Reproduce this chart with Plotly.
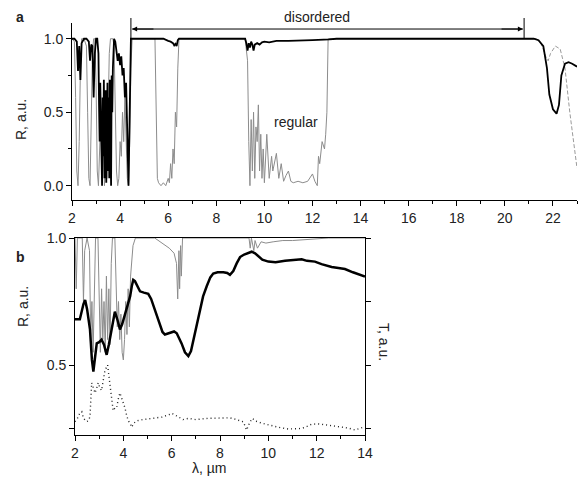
import plotly.graph_objects as go

# ---------------- Panel a data ----------------
a_dis_x = [2.0, 2.1, 2.2, 2.25, 2.3, 2.35, 2.4, 2.5, 2.6, 2.7, 2.75, 2.8, 2.85, 2.9, 2.95, 3.0, 3.05,
           3.1, 3.125, 3.15, 3.175, 3.2, 3.225, 3.25, 3.275, 3.3, 3.325, 3.35, 3.375, 3.4, 3.425, 3.45,
           3.475, 3.5, 3.525, 3.55, 3.575, 3.6, 3.625, 3.65, 3.675, 3.7, 3.75, 3.8, 3.85, 3.9, 3.95,
           4.0, 4.05, 4.1, 4.15, 4.2, 4.25, 4.3, 4.35, 4.4, 4.45,
           5.8, 5.9, 6.0, 6.1, 6.2, 6.25, 6.3, 6.35, 6.4, 6.45,
           9.2, 9.25, 9.3, 9.35, 9.4, 9.45, 9.5, 9.55, 9.6, 9.7, 9.8, 9.9, 10.0, 10.2, 10.5, 11.0,
           11.5, 12.0, 12.7, 13.0, 21.2, 21.4, 21.6, 21.75, 21.85, 22.0, 22.15, 22.25, 22.35, 22.5,
           22.65, 22.8, 23.0]
a_dis_y = [1.0, 1.0, 0.98, 0.78, 0.95, 0.72, 0.97, 1.0, 1.0, 0.98, 0.85, 0.96, 0.95, 0.6, 0.9, 1.0, 1.0,
           0.9, 0.55, 0.3, 0.7, 0.45, 0.05, 0.0, 0.6, 0.2, 0.72, 0.05, 0.55, 0.65, 0.02, 0.4,
           0.7, 0.1, 0.6, 0.05, 0.72, 0.3, 0.0, 0.75, 0.5, 0.8, 1.0, 0.98, 0.9, 0.85, 0.9,
           0.82, 0.88, 0.75, 0.8, 0.6, 0.7, 0.4, 0.0, 0.5, 1.0,
           1.0, 0.99, 0.985, 0.98, 0.97, 0.955, 0.965, 0.95, 0.99, 1.0,
           1.0, 0.97, 0.92, 0.97, 0.94, 0.98, 0.96, 0.92, 0.96, 0.97, 0.96, 0.975, 0.98, 0.975, 0.985, 0.985,
           0.99, 0.99, 0.995, 1.0, 1.0, 0.99, 0.95, 0.8, 0.62, 0.52, 0.49, 0.55, 0.75, 0.83,
           0.84, 0.83, 0.81]

a_reg_x = [2.0, 2.1, 2.15, 2.2, 2.25, 2.3, 2.35, 2.4, 2.5, 2.6, 2.65, 2.7, 2.75, 2.8, 2.85, 2.9, 2.95,
           3.0, 3.05, 3.1, 3.15, 3.2, 3.25, 3.3, 3.35, 3.4, 3.45, 3.5, 3.55, 3.6, 3.7, 3.75, 3.8, 3.85,
           3.9, 3.95, 4.0, 4.05, 4.1, 4.15, 4.2, 4.25, 4.3, 4.35, 4.4, 4.45, 4.5,
           5.45, 5.5, 5.55, 5.6, 5.7, 5.8, 5.9, 6.0, 6.05, 6.1, 6.15, 6.2, 6.25, 6.3, 6.35, 6.4, 6.45,
           9.2, 9.3, 9.35, 9.4, 9.45, 9.5, 9.55, 9.6, 9.65, 9.7, 9.75, 9.8, 9.85, 9.9, 9.95, 10.0, 10.1,
           10.2, 10.3, 10.35, 10.5, 10.6, 10.7, 10.8, 10.9, 11.0, 11.1, 11.2, 11.4, 11.6, 11.8, 11.9,
           12.0, 12.1, 12.2, 12.25, 12.3, 12.4, 12.5, 12.55, 12.6, 12.65, 21.3]
a_reg_y = [1.0, 0.98, 0.6, 0.1, 0.0, 0.3, 0.8, 1.0, 1.0, 0.95, 0.5, 0.05, 0.0, 0.4, 0.9, 1.0, 1.0,
           0.7, 0.1, 0.0, 0.2, 0.5, 0.1, 0.4, 0.0, 0.3, 0.05, 0.5, 0.9, 1.0, 1.0, 0.95, 0.5, 0.1,
           0.0, 0.05, 0.3, 0.2, 0.5, 0.3, 0.6, 0.2, 0.05, 0.0, 0.3, 0.8, 1.0,
           1.0, 0.6, 0.05, 0.02, 0.0, 0.02, 0.0, 0.05, 0.02, 0.15, 0.05, 0.25, 0.15, 0.5, 0.4, 0.8, 1.0,
           1.0, 0.85, 0.3, 0.0, 0.45, 0.1, 0.5, 0.05, 0.4, 0.3, 0.55, 0.1, 0.35, 0.05, 0.25, 0.02, 0.35,
           0.05, 0.2, 0.1, 0.22, 0.05, 0.15, 0.03, 0.07, 0.1, 0.03, 0.02, 0.03, 0.02, 0.03, 0.06,
           0.08, 0.03, 0.0, 0.2, 0.15, 0.3, 0.25, 0.35, 0.5, 1.0, 1.0]
# long-wavelength tail of the regular spectrum (drawn dashed in the figure)
a_reg_tail_x = [21.3, 21.5, 21.7, 21.8, 21.9, 22.1, 22.3, 22.5, 22.7, 22.85, 23.0]
a_reg_tail_y = [1.0, 0.97, 0.88, 0.85, 0.9, 0.95, 0.93, 0.8, 0.5, 0.3, 0.12]

# ---------------- Panel b data ----------------
b_dis_x = [2.0, 2.2, 2.35, 2.42, 2.5, 2.62, 2.7, 2.76, 2.83, 2.9, 3.0, 3.1, 3.2, 3.31, 3.4, 3.52, 3.65,
           3.75, 3.86, 3.95, 4.07, 4.18, 4.28, 4.35, 4.41, 4.48, 4.55, 4.69, 4.85, 5.03, 5.15, 5.31,
           5.42, 5.52, 5.62, 5.72, 5.85, 6.0, 6.1, 6.21, 6.32, 6.41, 6.55, 6.69, 6.8, 6.9, 7.05, 7.17,
           7.3, 7.45, 7.6, 7.72, 7.9, 8.14, 8.3, 8.41, 8.55, 8.69, 8.83, 9.0, 9.2, 9.31, 9.45, 9.58,
           9.75, 10.0, 10.3, 10.69, 11.0, 11.38, 11.6, 11.93, 12.2, 12.62, 12.9, 13.17, 13.5, 13.93, 14.0]
b_dis_y = [0.68, 0.68, 0.74, 0.756, 0.72, 0.64, 0.52, 0.474, 0.53, 0.585, 0.59, 0.6, 0.58, 0.54, 0.58,
           0.64, 0.71, 0.68, 0.64, 0.66, 0.70, 0.74, 0.77, 0.81, 0.835, 0.83, 0.815, 0.79, 0.785, 0.78,
           0.76, 0.716, 0.68, 0.65, 0.63, 0.62, 0.625, 0.63, 0.632, 0.625, 0.605, 0.585, 0.55, 0.535,
           0.555, 0.6, 0.66, 0.716, 0.77, 0.81, 0.845, 0.86, 0.865, 0.865, 0.862, 0.855, 0.87, 0.90,
           0.925, 0.935, 0.944, 0.946, 0.94, 0.93, 0.915, 0.907, 0.905, 0.91, 0.912, 0.916, 0.91, 0.907,
           0.897, 0.886, 0.882, 0.878, 0.865, 0.85, 0.848]

b_reg_x = [2.0, 2.05, 2.1, 2.3, 2.35, 2.4, 2.5, 2.6, 2.65, 2.7, 2.75, 2.8, 2.85, 2.95, 3.0, 3.05, 3.1,
           3.15, 3.2, 3.25, 3.3, 3.35, 3.4, 3.45, 3.5, 3.55, 3.65, 3.7, 3.75, 3.8, 3.85, 3.9, 3.95, 4.0,
           4.05, 4.1, 4.15, 4.2, 4.25, 4.3, 4.35, 4.4, 4.5, 5.3, 5.6, 5.9, 6.1, 6.2, 6.25, 6.3, 6.33,
           6.37, 6.4, 6.45, 9.2, 9.25, 9.3, 9.4, 9.45, 9.55, 9.7, 9.9, 10.2, 10.6, 11.0, 12.0, 12.5, 14.0]
b_reg_y = [1.0, 0.8, 1.0, 1.0, 0.75, 0.95, 1.0, 0.95, 0.6, 0.75, 0.55, 0.85, 1.0, 1.0, 0.7, 0.55, 0.8,
           0.6, 0.75, 0.55, 0.85, 0.6, 0.8, 0.58, 0.9, 1.0, 1.0, 0.8, 0.65, 0.75, 0.6, 0.7, 0.55, 0.52,
           0.6, 0.75, 0.62, 0.8, 0.65, 0.85, 0.9, 0.97, 1.0, 1.0, 0.98, 0.96, 0.94, 0.9, 0.76, 0.95, 0.8,
           0.97, 0.85, 1.0, 1.0, 0.96, 1.0, 0.95, 0.99, 0.96, 0.985, 0.98, 0.985, 0.99, 0.99, 0.995, 1.0, 1.0]

b_T_x = [2.0, 2.1, 2.2, 2.28, 2.35, 2.48, 2.55, 2.62, 2.69, 2.76, 2.83, 2.9, 2.96, 3.03, 3.1, 3.17, 3.24,
         3.3, 3.35, 3.4, 3.45, 3.52, 3.58, 3.65, 3.72, 3.8, 3.86, 3.93, 4.0, 4.07, 4.14, 4.21, 4.28, 4.35,
         4.42, 4.55, 4.8, 5.2, 5.6, 5.9, 6.0, 6.2, 6.47, 6.7, 7.0, 7.5, 8.0, 8.4, 8.62, 8.8, 8.97, 9.1,
         9.24, 9.35, 9.45, 9.7, 9.99, 10.4, 10.83, 11.1, 11.38, 11.6, 11.8, 12.1, 12.48, 13.0, 13.3,
         13.58, 13.8, 14.0]
b_T_y = [0.277, 0.29, 0.31, 0.316, 0.29, 0.277, 0.28, 0.296, 0.43, 0.41, 0.39, 0.41, 0.43, 0.41, 0.40,
         0.44, 0.48, 0.49, 0.50, 0.46, 0.415, 0.36, 0.32, 0.33, 0.33, 0.37, 0.39, 0.37, 0.35, 0.33, 0.30,
         0.28, 0.27, 0.255, 0.27, 0.28, 0.285, 0.29, 0.295, 0.305, 0.31, 0.30, 0.285, 0.29, 0.285, 0.29,
         0.29, 0.292, 0.287, 0.28, 0.276, 0.244, 0.276, 0.29, 0.28, 0.272, 0.264, 0.255, 0.248, 0.25,
         0.25, 0.258, 0.267, 0.268, 0.263, 0.258, 0.252, 0.244, 0.25, 0.257]

a_xticks = [2, 4, 6, 8, 10, 12, 14, 16, 18, 20, 22]
a_xminor = [3, 5, 7, 9, 11, 13, 15, 17, 19, 21, 23]
a_yticks = [0.0, 0.5, 1.0]
a_yminor = [0.25, 0.75]
b_xticks = [2, 4, 6, 8, 10, 12, 14]
b_xminor = [3, 5, 7, 9, 11, 13]
b_yticks = [0.5, 1.0]
b_yminor = [0.25, 0.75]

# "disordered" range (µm) and the level of its arrow
dis_range = [4.45, 20.8]
arrow_level = 1.066

W, H = 578, 477
FONT = "Liberation Sans, Arial, sans-serif"


def px(x):
    return x / W


def py(y):
    return 1 - y / H


fig = go.Figure()
fig.add_trace(go.Scatter(x=a_reg_x, y=a_reg_y, mode="lines", line=dict(color="#8c8c8c", width=1),
                         xaxis="x", yaxis="y", hoverinfo="skip"))
fig.add_trace(go.Scatter(x=a_reg_tail_x, y=a_reg_tail_y, mode="lines",
                         line=dict(color="#9a9a9a", width=1, dash="4px,2px"),
                         xaxis="x", yaxis="y", hoverinfo="skip"))
fig.add_trace(go.Scatter(x=a_dis_x, y=a_dis_y, mode="lines", line=dict(color="black", width=1.8),
                         xaxis="x", yaxis="y", hoverinfo="skip"))
fig.add_trace(go.Scatter(x=b_reg_x, y=b_reg_y, mode="lines", line=dict(color="#8c8c8c", width=1),
                         xaxis="x2", yaxis="y2", hoverinfo="skip"))
fig.add_trace(go.Scatter(x=b_T_x, y=b_T_y, mode="lines", line=dict(color="#222222", width=1.4, dash="1px,3px"),
                         xaxis="x2", yaxis="y2", hoverinfo="skip"))
fig.add_trace(go.Scatter(x=b_dis_x, y=b_dis_y, mode="lines", line=dict(color="black", width=2.5),
                         xaxis="x2", yaxis="y2", hoverinfo="skip"))

axis_common = dict(showline=True, linecolor="black", linewidth=1, showgrid=False, zeroline=False,
                   automargin=False,
                   ticks="outside", ticklen=5, tickcolor="black", tickwidth=1,
                   tickfont=dict(family=FONT, size=14, color="#222"))
minor_common = dict(ticks="outside", ticklen=3, tickcolor="black", tickwidth=1, showgrid=False)

fig.update_layout(
    template="none",
    width=W, height=H, margin=dict(l=0, r=0, t=0, b=0, pad=0, autoexpand=False),
    paper_bgcolor="white", plot_bgcolor="white", showlegend=False,
    xaxis=dict(axis_common, domain=[px(72), px(577)], range=[2, 23], anchor="y",
               tickvals=a_xticks, minor=dict(minor_common, tickvals=a_xminor)),
    yaxis=dict(axis_common, domain=[py(200.4), py(23)], range=[-0.1, 1.107], anchor="x",
               tickvals=a_yticks, tickformat=".1f", minor=dict(minor_common, tickvals=a_yminor)),
    xaxis2=dict(axis_common, domain=[px(75), px(365)], range=[2, 14], anchor="y2", mirror=True,
                tickvals=b_xticks, minor=dict(minor_common, tickvals=b_xminor)),
    yaxis2=dict(axis_common, domain=[py(435), py(238)], range=[0.2244, 1.0], anchor="x2", mirror="ticks",
                tickvals=b_yticks, tickformat=".1f", minor=dict(minor_common, tickvals=b_yminor, ticklen=5)),
)

# "disordered" range marker: end bars, connecting line and two arrowheads
for xe in dis_range:
    fig.add_shape(type="line", xref="x", yref="paper", x0=xe, x1=xe, y0=py(38.7), y1=py(18),
                  line=dict(color="black", width=1))
fig.add_shape(type="line", xref="x", yref="y", x0=dis_range[0] + 0.05, x1=dis_range[1] - 0.05,
              y0=arrow_level, y1=arrow_level, line=dict(color="black", width=1))
fig.add_annotation(x=dis_range[0] + 0.05, y=arrow_level, ax=dis_range[0] + 1.0, ay=arrow_level,
                   xref="x", yref="y", axref="x", ayref="y",
                   text="", showarrow=True, arrowhead=2, arrowsize=1, arrowwidth=1, arrowcolor="black")
fig.add_annotation(x=dis_range[1] - 0.05, y=arrow_level, ax=dis_range[1] - 1.0, ay=arrow_level,
                   xref="x", yref="y", axref="x", ayref="y",
                   text="", showarrow=True, arrowhead=2, arrowsize=1, arrowwidth=1, arrowcolor="black")

txt = dict(family=FONT, size=14, color="#222")
ann = dict(showarrow=False, font=txt, xanchor="center", yanchor="middle")
fig.add_annotation(x=12.2, y=py(17), xref="x", yref="paper", text="disordered", **ann)
fig.add_annotation(x=11.3, y=0.43, xref="x", yref="y", text="regular", **ann)
fig.add_annotation(x=px(20), y=py(17), xref="paper", yref="paper", text="<b>a</b>", **ann)
fig.add_annotation(x=px(20), y=py(257), xref="paper", yref="paper", text="<b>b</b>", **ann)
fig.add_annotation(x=px(21), y=py(120), xref="paper", yref="paper", text="R, a.u.", textangle=-90, **ann)
fig.add_annotation(x=px(23), y=py(307), xref="paper", yref="paper", text="R, a.u.", textangle=-90, **ann)
fig.add_annotation(x=px(384), y=py(342), xref="paper", yref="paper", text="T, a.u.", textangle=90, **ann)
fig.add_annotation(x=px(209), y=py(468), xref="paper", yref="paper", text="λ, µm", **ann)

fig.write_html("out.html")
